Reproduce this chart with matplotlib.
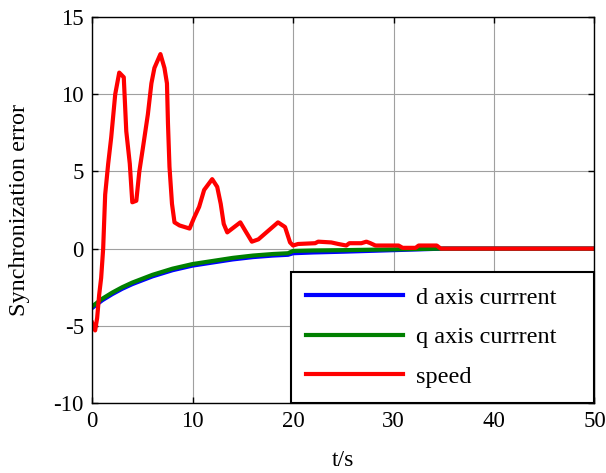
import matplotlib
matplotlib.use("Agg")
import matplotlib.pyplot as plt

plt.rcParams["font.family"] = ["Liberation Serif", "DejaVu Serif"]
plt.rcParams["axes.unicode_minus"] = False

# ── data ─────────────────────────────────────────────────────────────────────
t_cur = [0, 1, 2, 3, 4, 5, 6, 7, 8, 9, 10, 12, 14, 16, 18, 19.5, 20, 22, 25, 30, 35, 40, 50]
d_axis = [-3.85, -3.35, -2.95, -2.6, -2.3, -2.05, -1.8, -1.6, -1.4, -1.25, -1.1,
          -0.9, -0.7, -0.55, -0.45, -0.4, -0.3, -0.25, -0.2, -0.1, 0.0, 0.0, 0.0]
q_axis = [-3.75, -3.25, -2.85, -2.5, -2.2, -1.95, -1.7, -1.5, -1.3, -1.15, -1.0,
          -0.8, -0.6, -0.45, -0.35, -0.3, -0.15, -0.12, -0.1, -0.05, 0.0, 0.0, 0.0]

t_spd = [0, 0.3, 0.5, 0.7, 0.9, 1.1, 1.3, 1.6, 1.9, 2.3, 2.7, 3.15, 3.4, 3.75, 4.0,
         4.4, 4.7, 5.05, 5.55, 5.9, 6.2, 6.8, 7.2, 7.45, 7.55, 7.7, 7.95, 8.2, 8.7,
         9.7, 10.15, 10.65, 11.15, 11.95, 12.45, 12.8, 13.1, 13.45, 13.95, 14.75,
         15.25, 15.9, 16.55, 18.5, 19.2, 19.7, 20.0, 20.5, 22.2, 22.5, 23.8, 24.5,
         25.3, 25.6, 26.8, 27.3, 27.7, 28.2, 30.5, 30.9, 32.2, 32.5, 34.3, 34.7, 50]
speed = [-4.8, -5.3, -4.5, -3.0, -1.9, 0.0, 3.5, 5.5, 7.2, 10.0, 11.4, 11.1, 7.6, 5.5,
         3.0, 3.1, 5.0, 6.5, 8.7, 10.7, 11.7, 12.6, 11.7, 10.7, 8.1, 5.3, 2.9, 1.7,
         1.5, 1.3, 2.0, 2.7, 3.8, 4.5, 4.0, 2.9, 1.6, 1.05, 1.3, 1.7, 1.15, 0.45,
         0.6, 1.7, 1.4, 0.4, 0.2, 0.3, 0.35, 0.45, 0.4, 0.3, 0.2, 0.35, 0.35, 0.45,
         0.35, 0.2, 0.2, 0.05, 0.05, 0.2, 0.2, 0.0, 0.0]

x_ticks = [0, 10, 20, 30, 40, 50]
y_ticks = [-10, -5, 0, 5, 10, 15]

# ── plot ─────────────────────────────────────────────────────────────────────
fig = plt.figure(figsize=(6.06, 4.73), dpi=100)
ax = fig.add_axes([0.152, 0.148, 0.829, 0.816])

ax.plot(t_cur, d_axis, color="#0000ff", lw=3, label="d axis currrent")
ax.plot(t_cur, q_axis, color="#008000", lw=3, label="q axis currrent")
ax.plot(t_spd, speed, color="#ff0000", lw=3, label="speed")

ax.set_xlim(0, 50)
ax.set_ylim(-10, 15)
ax.set_xticks(x_ticks)
ax.set_yticks(y_ticks)
ax.grid(True, color="#a0a0a0", lw=0.8)
ax.tick_params(direction="in", top=True, right=True, length=4, width=1,
               labelsize=16.5, colors="black", pad=6)
for s in ax.spines.values():
    s.set_linewidth(1.0)
    s.set_color("black")

ax.set_xlabel("t/s", fontsize=17, labelpad=13)
ax.set_ylabel("Synchronization error", fontsize=17.5, labelpad=17)

# legend box spans from x≈0.395 to the right spine, bottom on the x axis
leg = ax.legend(loc="lower left", bbox_to_anchor=(0.395, 0.0, 0.605, 0.34),
                mode="expand", borderaxespad=0,
                fontsize=17.5, handlelength=4.0, labelspacing=0.72, borderpad=0.62,
                handletextpad=0.55, fancybox=False, framealpha=1)
leg.get_frame().set_edgecolor("black")
leg.get_frame().set_linewidth(1.5)

fig.savefig("out.png", dpi=100)
